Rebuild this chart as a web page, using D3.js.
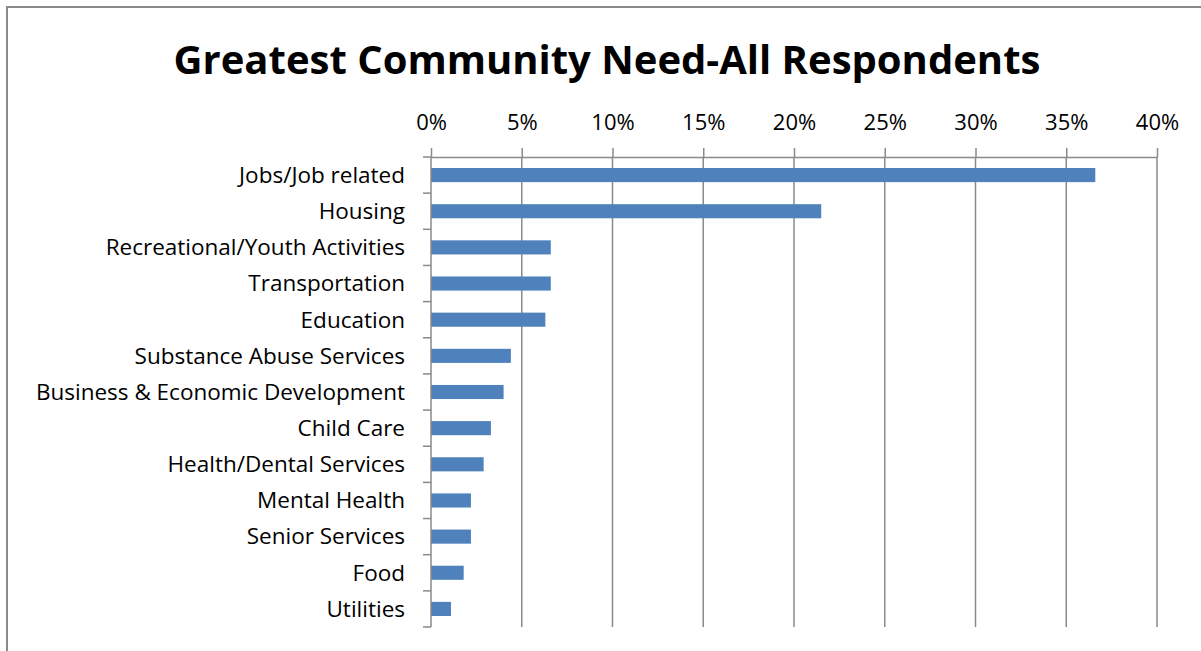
<!DOCTYPE html>
<html>
<head>
<meta charset="utf-8">
<script src="https://cdn.jsdelivr.net/npm/d3@7"></script>
<style>
  html, body { margin: 0; padding: 0; background: #fff; }
  svg { display: block; }
</style>
</head>
<body>
<svg id="chart" width="1201" height="651"></svg>
<script>
// Survey results: share of respondents naming each as the greatest community need
const categories = [
  "Jobs/Job related",
  "Housing",
  "Recreational/Youth Activities",
  "Transportation",
  "Education",
  "Substance Abuse Services",
  "Business & Economic Development",
  "Child Care",
  "Health/Dental Services",
  "Mental Health",
  "Senior Services",
  "Food",
  "Utilities"
];
const shares = [36.6, 21.5, 6.6, 6.6, 6.3, 4.4, 4.0, 3.3, 2.9, 2.2, 2.2, 1.8, 1.1];
const tickValues = [0, 5, 10, 15, 20, 25, 30, 35, 40];
const title = "Greatest Community Need-All Respondents";

const svg = d3.select("#chart");
const W = 1201, H = 651;
const font = "'Open Sans', sans-serif";
const grey = "#8a8a8a";

// chart frame
svg.append("rect")
  .attr("x", 7).attr("y", 7)
  .attr("width", W + 20).attr("height", H + 20)
  .attr("fill", "#fff")
  .attr("stroke", grey).attr("stroke-width", 2);

const plot = { left: 431, right: 1157, top: 157, bottom: 627 };

const x = d3.scaleLinear().domain([0, 40]).range([plot.left, plot.right]);
const y = d3.scaleBand().domain(categories).range([plot.top, plot.bottom]).paddingInner(0.61).paddingOuter(0.305);

// title
svg.append("text")
  .attr("x", 607).attr("y", 74)
  .attr("text-anchor", "middle")
  .attr("font-family", font).attr("font-weight", "bold")
  .attr("font-size", 40).attr("fill", "#000")
  .text(title);

// vertical gridlines
svg.append("g").selectAll("line")
  .data(tickValues.slice(1))
  .join("line")
  .attr("x1", d => x(d)).attr("x2", d => x(d))
  .attr("y1", plot.top).attr("y2", plot.bottom)
  .attr("stroke", grey).attr("stroke-width", 1.5);

// top value axis
const xAxis = svg.append("g")
  .attr("transform", `translate(0,${plot.top})`)
  .call(d3.axisTop(x).tickValues(tickValues).tickSize(9).tickSizeOuter(0).tickPadding(18).tickFormat(d => d + "%"));
xAxis.select(".domain").attr("stroke", grey).attr("stroke-width", 1.5);
xAxis.selectAll(".tick line").attr("stroke", grey).attr("stroke-width", 1.5);
xAxis.selectAll(".tick text")
  .attr("font-family", font).attr("font-size", 22).attr("fill", "#000");

// bars
svg.append("g").selectAll("rect")
  .data(categories.map((c, i) => ({ c, v: shares[i] })))
  .join("rect")
  .attr("x", x(0))
  .attr("y", d => y(d.c))
  .attr("width", d => x(d.v) - x(0))
  .attr("height", y.bandwidth())
  .attr("fill", "#4f81bd");

// category axis with ticks on band boundaries
const bounds = d3.range(categories.length + 1).map(i => plot.top + i * (plot.bottom - plot.top) / categories.length);
const catAxis = svg.append("g");
catAxis.append("line")
  .attr("x1", x(0)).attr("x2", x(0))
  .attr("y1", plot.top).attr("y2", plot.bottom)
  .attr("stroke", grey).attr("stroke-width", 1.5);
catAxis.selectAll("line.tk")
  .data(bounds)
  .join("line").attr("class", "tk")
  .attr("x1", x(0) - 8).attr("x2", x(0))
  .attr("y1", d => d).attr("y2", d => d)
  .attr("stroke", grey).attr("stroke-width", 1.5);
catAxis.selectAll("text")
  .data(categories)
  .join("text")
  .attr("x", 405)
  .attr("y", d => y(d) + y.bandwidth() / 2)
  .attr("dy", "0.35em")
  .attr("text-anchor", "end")
  .attr("font-family", font).attr("font-size", 22.5).attr("fill", "#000")
  .text(d => d);
</script>
</body>
</html>
